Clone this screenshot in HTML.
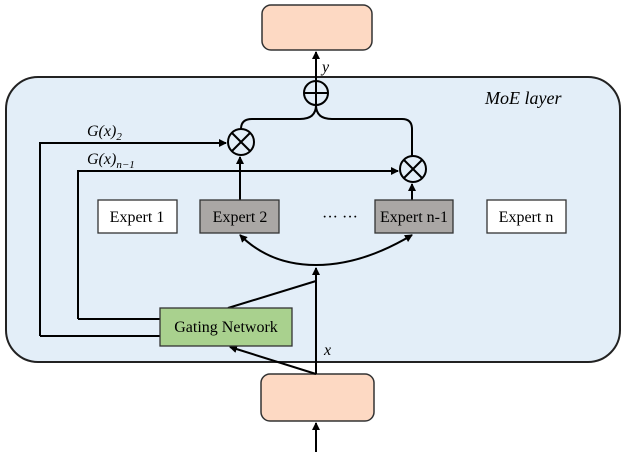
<!DOCTYPE html><html><head><style>body{margin:0;background:#fff}</style></head><body>
<svg width="626" height="452" viewBox="0 0 626 452" xmlns="http://www.w3.org/2000/svg" font-family="Liberation Serif, serif">
<defs><marker id="a" markerWidth="8" markerHeight="8" refX="7" refY="4" orient="auto-start-reverse" markerUnits="userSpaceOnUse"><path d="M0,0 L8,4 L0,8 z" fill="#000"/></marker></defs>
<rect x="6" y="77" width="614" height="285" rx="32" fill="#e3eef8" stroke="#222" stroke-width="2"/>
<rect x="262" y="5" width="110" height="45" rx="9" fill="#fdd9c3" stroke="#333" stroke-width="1.5"/>
<rect x="261" y="374" width="113" height="47" rx="9" fill="#fdd9c3" stroke="#333" stroke-width="1.5"/>
<text x="485" y="104" font-size="18" font-style="italic">MoE layer</text>
<g stroke="#000" stroke-width="2" fill="none">
<line x1="316" y1="81" x2="316" y2="52" marker-end="url(#a)"/>
<circle cx="316" cy="93" r="12" fill="none"/><line x1="304" y1="93" x2="328" y2="93"/><line x1="316" y1="81" x2="316" y2="105"/>
<circle cx="241" cy="142" r="13"/><line x1="232" y1="133" x2="250" y2="151"/><line x1="250" y1="133" x2="232" y2="151"/>
<circle cx="413" cy="169" r="13"/><line x1="404" y1="160" x2="422" y2="178"/><line x1="422" y1="160" x2="404" y2="178"/>
<path d="M316,105 Q316,119 300,119 L252,119 Q241,119 241,129"/>
<path d="M316,105 Q316,119 332,119 L402,119 Q412,119 412,129 L412,156"/>
<path d="M40,336 L40,143 L226,143" marker-end="url(#a)"/>
<path d="M78,319 L78,171 L398,171" marker-end="url(#a)"/>
<line x1="240" y1="200" x2="240" y2="157" marker-end="url(#a)"/>
<line x1="412" y1="200" x2="412" y2="184" marker-end="url(#a)"/>
<path d="M40,336 L160,336"/><path d="M78,319 L160,319"/>
<path d="M240,235 Q270,265 316,265 Q362,265 412,235" marker-start="url(#a)" marker-end="url(#a)"/>
<line x1="316" y1="374" x2="316" y2="268" marker-end="url(#a)"/>
<line x1="316" y1="281" x2="228" y2="308"/>
<line x1="316" y1="374" x2="230" y2="347" marker-end="url(#a)"/>
<line x1="316" y1="452" x2="316" y2="423" marker-end="url(#a)"/>
</g>
<g stroke="#333" stroke-width="1.3">
<rect x="98" y="200" width="79" height="33" fill="#fff"/>
<rect x="200" y="200" width="79" height="33" fill="#aaa7a5"/>
<rect x="375" y="200" width="78" height="33" fill="#aaa7a5"/>
<rect x="487" y="200" width="79" height="33" fill="#fff"/>
<rect x="160" y="308" width="132" height="38" fill="#a9d18e"/>
</g>
<g font-size="16" text-anchor="middle">
<text x="137" y="222">Expert 1</text><text x="240" y="222">Expert 2</text>
<text x="414" y="222">Expert n-1</text><text x="526" y="222">Expert n</text>
<text x="340" y="222">··· ···</text>
<text x="226" y="332">Gating Network</text>
</g>
<g font-size="16" font-style="italic">
<text x="322" y="72">y</text><text x="324" y="355">x</text>
<text x="87" y="136">G(x)<tspan font-size="11" dy="4">2</tspan></text>
<text x="87" y="164">G(x)<tspan font-size="11" dy="4">n−1</tspan></text>
</g>
</svg></body></html>
